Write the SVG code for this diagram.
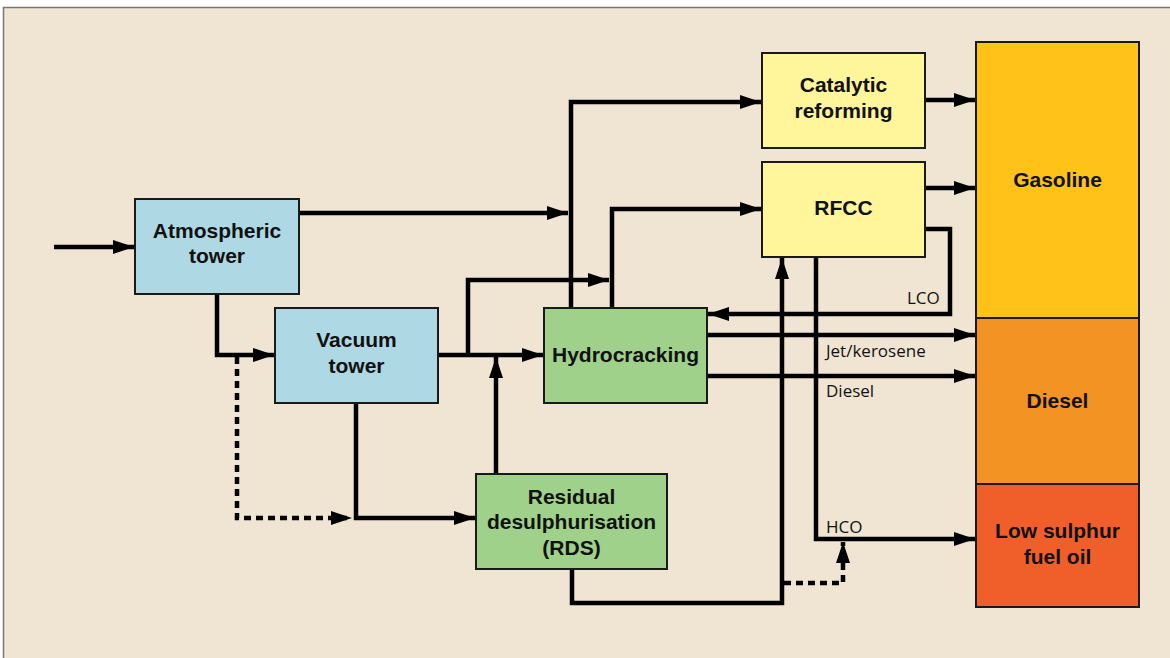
<svg xmlns="http://www.w3.org/2000/svg" width="1170" height="658" viewBox="0 0 1170 658">
<style>
.box{stroke:#1a1a1a;stroke-width:2}
.t{font-family:"Liberation Sans",Arial,sans-serif;font-weight:bold;font-size:21px;fill:#111;text-anchor:middle}
.s{font-family:"Open Sans","Liberation Sans",sans-serif;font-size:17px;fill:#111}
.c{fill:none;stroke:#000;stroke-width:4.5;stroke-linejoin:miter;stroke-linecap:butt}
.d{stroke-dasharray:7 5}
</style>
<defs>
<marker id="ah" markerUnits="userSpaceOnUse" markerWidth="22" markerHeight="14" refX="21" refY="7" orient="auto">
<path d="M0,0 L21,7 L0,14 z" fill="#000"/>
</marker>
</defs>
<rect x="0" y="0" width="1170" height="658" fill="#ffffff"/>
<rect x="3.5" y="7.5" width="1180" height="660" fill="#f0e5d3" stroke="#777" stroke-width="1.5"/>

<g id="connectors">
<path class="c" d="M54,247 H134" marker-end="url(#ah)"/>
<path class="c" d="M217,294 V355 H274" marker-end="url(#ah)"/>
<path class="c d" d="M237,357 V518 H352" marker-end="url(#ah)"/>
<path class="c" d="M356,403 V518 H475" marker-end="url(#ah)"/>
<path class="c" d="M438,355 H543" marker-end="url(#ah)"/>
<path class="c" d="M468,355 V280 H609" marker-end="url(#ah)"/>
<path class="c" d="M299,213 H568" marker-end="url(#ah)"/>
<path class="c" d="M571,308 V102 H761" marker-end="url(#ah)"/>
<path class="c" d="M612,308 V209 H761" marker-end="url(#ah)"/>
<path class="c" d="M496,474 V357" marker-end="url(#ah)"/>
<path class="c" d="M925,100 H975" marker-end="url(#ah)"/>
<path class="c" d="M925,188 H975" marker-end="url(#ah)"/>
<path class="c" d="M925,229 H950 V314 H708" marker-end="url(#ah)"/>
<path class="c" d="M707,335 H975" marker-end="url(#ah)"/>
<path class="c" d="M707,376 H975" marker-end="url(#ah)"/>
<path class="c" d="M572,569 V603 H782 V258" marker-end="url(#ah)"/>
<path class="c" d="M816,257 V539 H975" marker-end="url(#ah)"/>
<path class="c d" d="M784,583 H843 V542" marker-end="url(#ah)"/>
<text class="s" x="907" y="304">LCO</text>
<text class="s" x="826" y="357">Jet/kerosene</text>
<text class="s" x="826" y="397">Diesel</text>
<text class="s" x="826" y="533">HCO</text>
</g>

<g id="atmospheric">
<rect class="box" x="135" y="199" width="164" height="95" fill="#add8e4"/>
<text class="t" x="217" y="238">Atmospheric</text>
<text class="t" x="217" y="263">tower</text>
</g>
<g id="vacuum">
<rect class="box" x="275" y="308" width="163" height="95" fill="#add8e4"/>
<text class="t" x="356.5" y="347">Vacuum</text>
<text class="t" x="356.5" y="373">tower</text>
</g>
<g id="hydrocracking">
<rect class="box" x="544" y="308" width="163" height="95" fill="#9fd18a"/>
<text class="t" x="625.5" y="362">Hydrocracking</text>
</g>
<g id="rds">
<rect class="box" x="476" y="474" width="191" height="95" fill="#9fd18a"/>
<text class="t" x="571.5" y="504">Residual</text>
<text class="t" x="571.5" y="529">desulphurisation</text>
<text class="t" x="571.5" y="555">(RDS)</text>
</g>
<g id="catalytic">
<rect class="box" x="762" y="53" width="163" height="95" fill="#fff59a"/>
<text class="t" x="843.5" y="92">Catalytic</text>
<text class="t" x="843.5" y="118">reforming</text>
</g>
<g id="rfcc">
<rect class="box" x="762" y="162" width="163" height="95" fill="#fff59a"/>
<text class="t" x="843.5" y="215">RFCC</text>
</g>
<g id="gasoline">
<rect class="box" x="976" y="42" width="163" height="276" fill="#fec218"/>
<text class="t" x="1057.5" y="187">Gasoline</text>
</g>
<g id="diesel">
<rect class="box" x="976" y="318" width="163" height="166" fill="#f39324"/>
<text class="t" x="1057.5" y="408">Diesel</text>
</g>
<g id="lsfo">
<rect class="box" x="976" y="484" width="163" height="123" fill="#f05f29"/>
<text class="t" x="1057.5" y="538">Low sulphur</text>
<text class="t" x="1057.5" y="564">fuel oil</text>
</g>
</svg>
